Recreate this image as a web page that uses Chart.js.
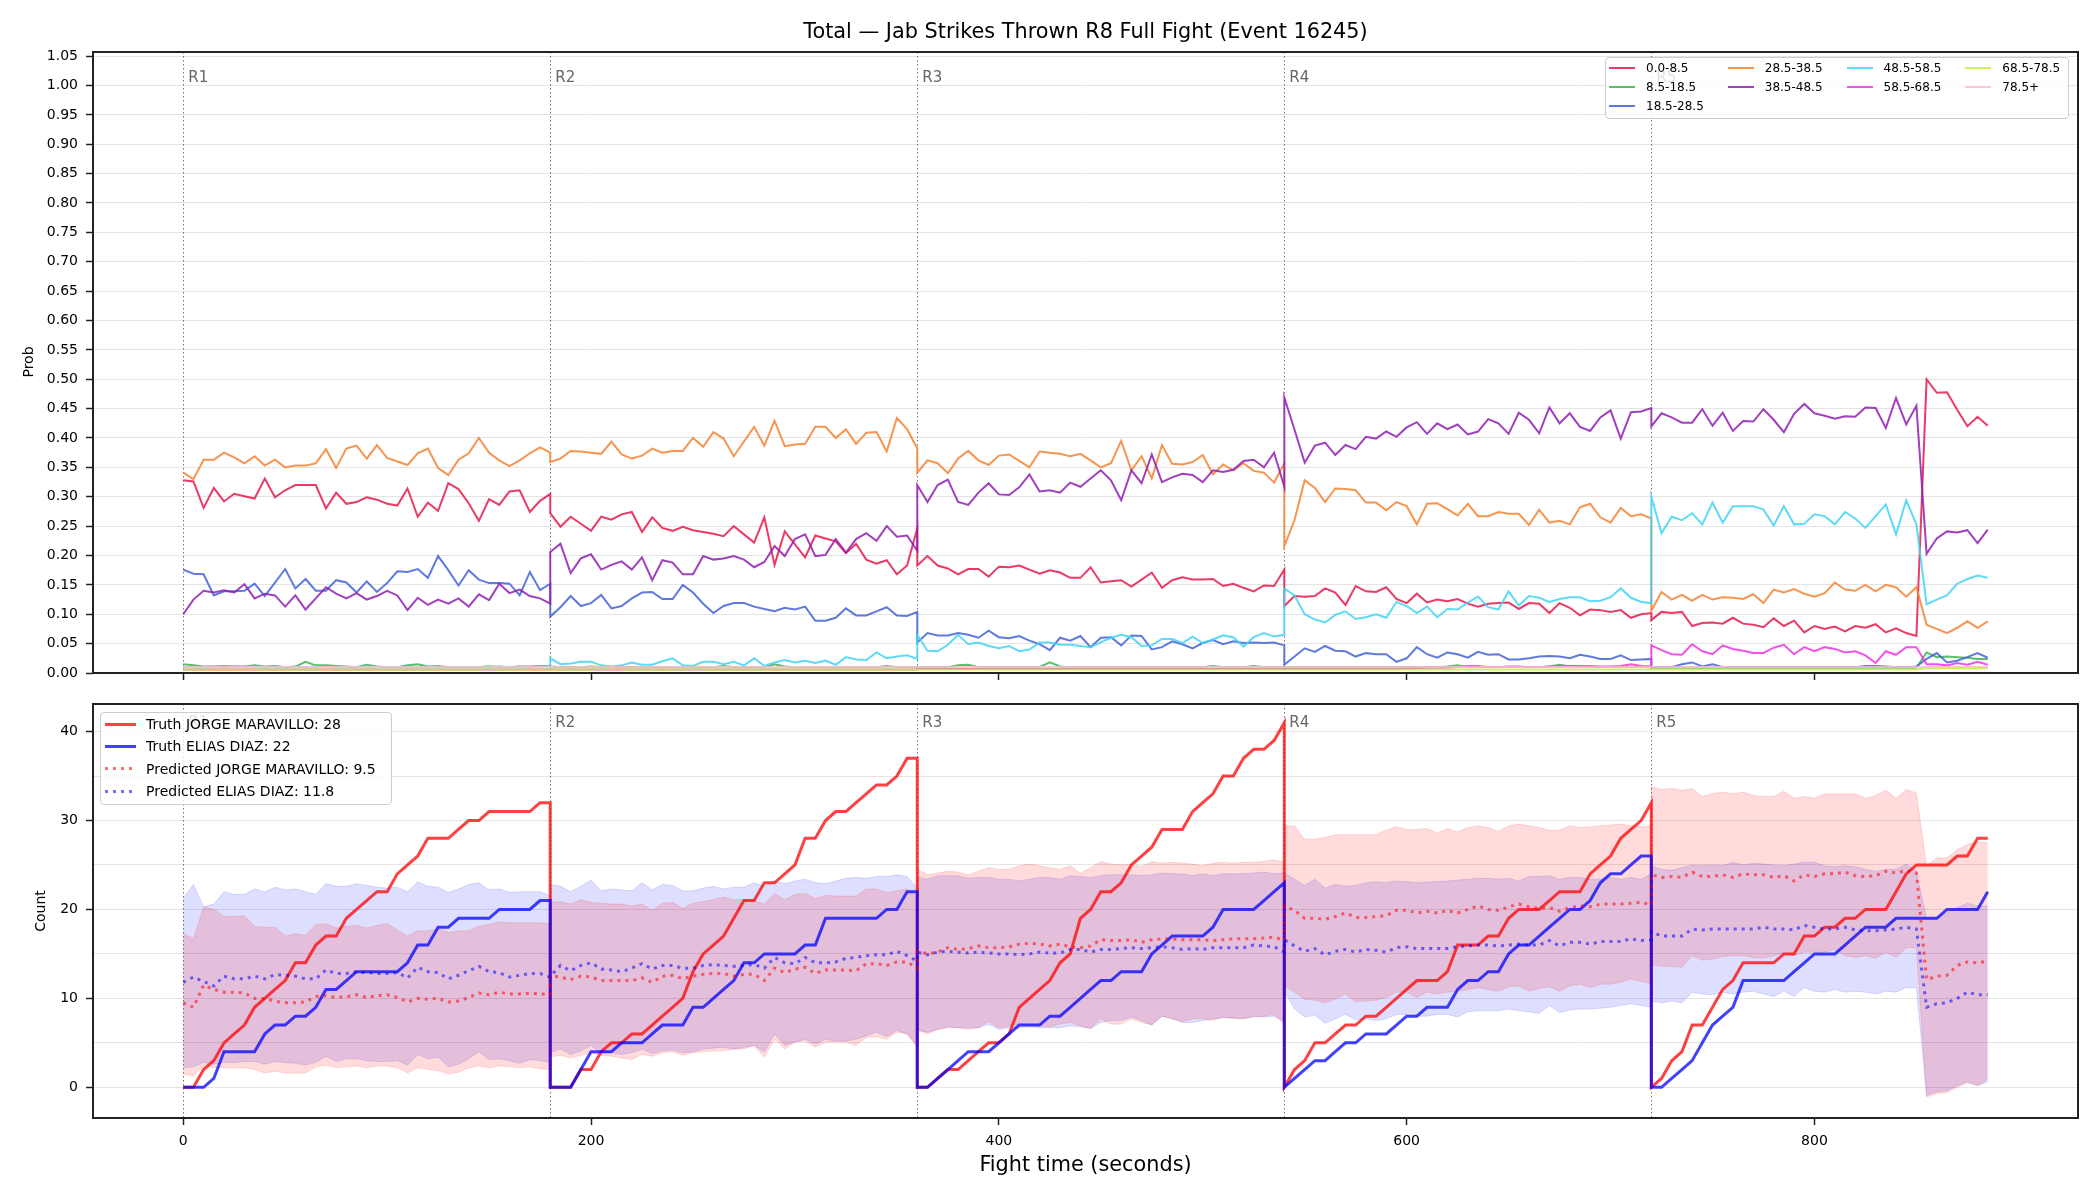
<!DOCTYPE html>
<html>
<head>
<meta charset="utf-8">
<title>Jab Strikes Thrown R8 Full Fight</title>
<script src="https://cdn.jsdelivr.net/npm/chart.js@4.4.1/dist/chart.umd.min.js"></script>
<style>
  html, body { margin: 0; padding: 0; background: #fff; }
  body { font-family: "DejaVu Sans", sans-serif; color: #000; }
  #page { position: relative; width: 2100px; height: 1200px; overflow: hidden; }
  #probChart { position: absolute; left: 0; top: 0; }
  #countChart { position: absolute; left: 0; top: 680px; }
  .title, .xlab { position: absolute; left: 93px; width: 1985px; text-align: center; font-size: 20.8px; line-height: 24px; }
  .title { top: 19px; }
  .xlab { top: 1152px; }
  .ylab { position: absolute; width: 120px; height: 18px; line-height: 18px; text-align: center; font-size: 14px; transform: rotate(-90deg); }
  .legend { position: absolute; box-sizing: border-box; border: 1px solid #cccccc; border-radius: 4px; background: rgba(255,255,255,0.8); display: grid; }
  .legend .item { display: flex; align-items: center; white-space: nowrap; }
  .legend .swatch { flex: none; }
  #legTop { left: 1605px; top: 57px; width: 464px; height: 62px; font-size: 12px; grid-template-rows: repeat(3, 19.25px); grid-auto-columns: max-content; column-gap: 24px; padding: 0 0 0 3px; }
  #legTop .swatch { width: 26px; height: 2px; margin-right: 11px; }
  #legBot { left: 100px; top: 712px; width: 292px; height: 93px; font-size: 14px; grid-template-rows: repeat(4, 22.3px); padding: 0 0 0 4px; }
  #legBot .swatch { width: 31px; height: 3px; margin-right: 10px; }
</style>
</head>
<body>
<div id="page">
  <canvas id="probChart" width="2100" height="700"></canvas>
  <canvas id="countChart" width="2100" height="520"></canvas>
  <div class="title">Total — Jab Strikes Thrown R8 Full Fight (Event 16245)</div>
  <div class="xlab">Fight time (seconds)</div>
  <div class="ylab" style="left:-32px; top:353px;">Prob</div>
  <div class="ylab" style="left:-20px; top:902px;">Count</div>
  <div class="legend" id="legTop"></div>
  <div class="legend" id="legBot"></div>
</div>
<script>
// rounds: every round sampled each 5 s, round boundaries repeated
const roundStart = [0, 180, 360, 540, 720];
const roundLen = [180, 180, 180, 180, 165];
const roundNames = ['R1', 'R2', 'R3', 'R4', 'R5'];

const xTicks = [0, 200, 400, 600, 800];
const probTicks = [0.00, 0.05, 0.10, 0.15, 0.20, 0.25, 0.30, 0.35, 0.40, 0.45, 0.50, 0.55, 0.60, 0.65, 0.70, 0.75, 0.80, 0.85, 0.90, 0.95, 1.00, 1.05];
const countTicks = [0, 5, 10, 15, 20, 25, 30, 35, 40];

const binLabels = ['0.0-8.5', '8.5-18.5', '18.5-28.5', '28.5-38.5', '38.5-48.5', '48.5-58.5', '58.5-68.5', '68.5-78.5', '78.5+'];
const binColors = ['#e6194b', '#3cb44b', '#4363d8', '#f58231', '#911eb4', '#42d4f4', '#f032e6', '#bfef45', '#fabed4'];

// probability per bin (R1..R5)
const prob_0_8 = [
  0.328,0.326,0.281,0.315,0.292,0.305,0.301,0.297,0.331,0.299,0.311,0.320,0.320,0.320,0.280,0.307,0.288,0.291,0.299,0.295,0.288,0.285,0.314,0.266,0.290,0.276,0.323,0.313,0.289,0.259,0.296,0.286,0.309,0.311,0.274,0.293,0.305,
  0.272,0.249,0.266,0.254,0.242,0.266,0.261,0.270,0.274,0.240,0.265,0.247,0.242,0.249,0.243,0.240,0.237,0.233,0.250,0.236,0.222,0.265,0.184,0.241,0.219,0.197,0.234,0.229,0.224,0.204,0.220,0.193,0.186,0.192,0.168,0.183,0.246,
  0.183,0.199,0.183,0.178,0.168,0.177,0.177,0.164,0.181,0.180,0.183,0.176,0.169,0.175,0.171,0.162,0.162,0.180,0.154,0.156,0.158,0.147,0.159,0.171,0.145,0.158,0.163,0.159,0.159,0.160,0.148,0.152,0.145,0.139,0.149,0.148,0.176,
  0.114,0.131,0.130,0.131,0.144,0.137,0.116,0.148,0.139,0.138,0.146,0.126,0.119,0.135,0.120,0.125,0.122,0.126,0.118,0.113,0.118,0.119,0.120,0.109,0.119,0.118,0.102,0.119,0.111,0.098,0.108,0.107,0.104,0.107,0.094,0.100,0.102,
  0.090,0.104,0.102,0.104,0.080,0.085,0.086,0.084,0.094,0.084,0.082,0.078,0.093,0.080,0.089,0.069,0.080,0.075,0.079,0.071,0.080,0.077,0.083,0.069,0.076,0.068,0.063,0.500,0.477,0.478,0.448,0.420,0.436,0.421
];
const prob_8_18 = [
  0.015,0.013,0.011,0.011,0.012,0.011,0.011,0.013,0.011,0.012,0.010,0.011,0.019,0.013,0.013,0.012,0.011,0.010,0.014,0.011,0.010,0.010,0.013,0.015,0.011,0.012,0.010,0.010,0.010,0.010,0.010,0.011,0.010,0.011,0.011,0.012,0.012,
  0.011,0.010,0.010,0.010,0.011,0.010,0.010,0.010,0.010,0.010,0.010,0.010,0.010,0.010,0.010,0.010,0.010,0.012,0.010,0.010,0.010,0.010,0.015,0.011,0.010,0.010,0.010,0.010,0.010,0.010,0.010,0.010,0.010,0.012,0.010,0.010,0.010,
  0.010,0.010,0.010,0.010,0.013,0.014,0.010,0.010,0.010,0.010,0.010,0.010,0.010,0.018,0.011,0.010,0.010,0.010,0.010,0.010,0.010,0.010,0.010,0.010,0.010,0.010,0.010,0.010,0.010,0.012,0.010,0.010,0.010,0.012,0.010,0.010,0.010,
  0.010,0.010,0.010,0.010,0.010,0.010,0.010,0.010,0.010,0.010,0.010,0.010,0.010,0.010,0.010,0.010,0.011,0.013,0.010,0.010,0.010,0.010,0.010,0.010,0.010,0.010,0.011,0.014,0.011,0.010,0.010,0.010,0.010,0.010,0.010,0.010,0.010,
  0.009,0.009,0.009,0.009,0.009,0.009,0.009,0.009,0.009,0.009,0.009,0.009,0.009,0.009,0.009,0.009,0.009,0.009,0.009,0.009,0.009,0.009,0.009,0.009,0.009,0.009,0.009,0.035,0.027,0.028,0.027,0.026,0.024,0.024
];
const prob_18_28 = [
  0.176,0.169,0.168,0.132,0.139,0.139,0.140,0.152,0.131,0.154,0.177,0.144,0.160,0.140,0.140,0.158,0.154,0.137,0.156,0.138,0.153,0.173,0.172,0.177,0.162,0.199,0.175,0.149,0.175,0.159,0.153,0.153,0.152,0.132,0.172,0.141,0.152,
  0.096,0.112,0.131,0.114,0.119,0.133,0.110,0.114,0.127,0.137,0.138,0.126,0.126,0.150,0.137,0.118,0.102,0.114,0.119,0.119,0.113,0.109,0.105,0.111,0.108,0.113,0.089,0.089,0.094,0.110,0.098,0.098,0.105,0.112,0.098,0.097,0.104,
  0.052,0.068,0.064,0.064,0.068,0.065,0.060,0.072,0.061,0.059,0.063,0.055,0.049,0.039,0.060,0.055,0.063,0.044,0.060,0.061,0.047,0.064,0.063,0.040,0.044,0.054,0.049,0.042,0.051,0.056,0.049,0.054,0.051,0.052,0.051,0.052,0.047,
  0.014,0.028,0.042,0.036,0.046,0.038,0.037,0.028,0.034,0.032,0.032,0.019,0.025,0.044,0.032,0.026,0.035,0.032,0.026,0.036,0.031,0.032,0.023,0.023,0.025,0.028,0.029,0.028,0.025,0.031,0.028,0.024,0.024,0.030,0.022,0.023,0.024,
  0.010,0.010,0.010,0.015,0.018,0.011,0.015,0.010,0.010,0.010,0.010,0.010,0.010,0.010,0.010,0.010,0.010,0.010,0.010,0.010,0.010,0.012,0.012,0.011,0.010,0.010,0.011,0.024,0.034,0.018,0.021,0.027,0.034,0.026
];
const prob_28_38 = [
  0.341,0.330,0.363,0.363,0.375,0.367,0.357,0.369,0.353,0.363,0.350,0.353,0.353,0.357,0.381,0.349,0.382,0.387,0.365,0.388,0.366,0.360,0.354,0.374,0.382,0.349,0.337,0.363,0.374,0.400,0.375,0.362,0.352,0.362,0.374,0.384,0.375,
  0.359,0.365,0.378,0.377,0.375,0.373,0.394,0.372,0.365,0.370,0.382,0.375,0.378,0.378,0.400,0.385,0.410,0.399,0.369,0.394,0.419,0.387,0.429,0.386,0.389,0.390,0.419,0.419,0.400,0.415,0.390,0.409,0.410,0.377,0.434,0.415,0.382,
  0.341,0.362,0.357,0.340,0.365,0.378,0.362,0.354,0.370,0.372,0.361,0.350,0.377,0.375,0.373,0.369,0.373,0.362,0.350,0.357,0.395,0.345,0.369,0.331,0.388,0.356,0.355,0.359,0.371,0.338,0.355,0.345,0.357,0.344,0.341,0.324,0.357,
  0.216,0.260,0.328,0.315,0.291,0.314,0.313,0.311,0.290,0.290,0.277,0.291,0.284,0.253,0.288,0.289,0.279,0.268,0.288,0.267,0.267,0.274,0.271,0.271,0.252,0.278,0.256,0.259,0.253,0.282,0.288,0.265,0.256,0.281,0.267,0.270,0.263,
  0.106,0.138,0.125,0.133,0.123,0.133,0.125,0.129,0.128,0.126,0.134,0.119,0.142,0.137,0.143,0.135,0.130,0.136,0.154,0.142,0.140,0.150,0.139,0.150,0.146,0.130,0.146,0.082,0.075,0.068,0.077,0.088,0.077,0.088
];
const prob_38_48 = [
  0.100,0.125,0.140,0.137,0.141,0.137,0.151,0.127,0.135,0.132,0.113,0.132,0.108,0.127,0.146,0.135,0.127,0.136,0.125,0.131,0.140,0.132,0.107,0.128,0.116,0.125,0.118,0.127,0.113,0.134,0.124,0.152,0.136,0.142,0.131,0.127,0.118,
  0.206,0.220,0.170,0.195,0.202,0.176,0.184,0.190,0.176,0.197,0.158,0.192,0.188,0.168,0.168,0.199,0.193,0.195,0.199,0.193,0.180,0.189,0.216,0.199,0.228,0.236,0.199,0.201,0.228,0.205,0.228,0.238,0.225,0.250,0.232,0.234,0.208,
  0.320,0.291,0.320,0.329,0.291,0.286,0.307,0.323,0.304,0.303,0.316,0.338,0.309,0.311,0.307,0.324,0.317,0.331,0.345,0.328,0.294,0.345,0.323,0.372,0.325,0.333,0.339,0.337,0.325,0.345,0.342,0.346,0.361,0.363,0.350,0.375,0.317,
  0.469,0.414,0.358,0.387,0.392,0.371,0.388,0.381,0.402,0.399,0.411,0.402,0.418,0.427,0.407,0.425,0.415,0.423,0.406,0.411,0.432,0.425,0.407,0.443,0.431,0.408,0.452,0.425,0.442,0.419,0.412,0.435,0.447,0.399,0.444,0.445,0.451,
  0.420,0.442,0.435,0.426,0.426,0.449,0.421,0.443,0.412,0.429,0.428,0.449,0.431,0.410,0.441,0.458,0.442,0.438,0.433,0.437,0.436,0.452,0.451,0.417,0.468,0.423,0.455,0.203,0.229,0.241,0.239,0.243,0.221,0.244
];
const prob_48_58 = [
  0.010,0.010,0.010,0.011,0.010,0.011,0.011,0.011,0.010,0.011,0.010,0.010,0.010,0.011,0.010,0.010,0.010,0.010,0.011,0.010,0.010,0.010,0.010,0.010,0.010,0.010,0.010,0.010,0.010,0.010,0.012,0.010,0.010,0.011,0.010,0.011,0.012,
  0.025,0.015,0.016,0.019,0.019,0.013,0.011,0.013,0.018,0.014,0.014,0.020,0.025,0.013,0.012,0.019,0.019,0.015,0.019,0.013,0.025,0.012,0.018,0.022,0.018,0.021,0.017,0.021,0.014,0.027,0.023,0.022,0.035,0.025,0.028,0.030,0.024,
  0.065,0.038,0.037,0.048,0.065,0.049,0.052,0.046,0.042,0.046,0.037,0.040,0.052,0.052,0.048,0.048,0.046,0.044,0.052,0.060,0.065,0.061,0.046,0.047,0.058,0.058,0.051,0.062,0.051,0.057,0.064,0.061,0.045,0.061,0.068,0.062,0.065,
  0.144,0.132,0.100,0.091,0.086,0.099,0.105,0.092,0.095,0.100,0.094,0.121,0.114,0.102,0.113,0.095,0.109,0.108,0.120,0.130,0.112,0.108,0.139,0.115,0.131,0.128,0.121,0.126,0.129,0.129,0.122,0.123,0.129,0.144,0.128,0.121,0.119,
  0.300,0.238,0.266,0.260,0.272,0.253,0.290,0.256,0.284,0.284,0.284,0.278,0.251,0.284,0.253,0.254,0.270,0.267,0.253,0.274,0.263,0.247,0.267,0.287,0.236,0.294,0.253,0.117,0.125,0.132,0.152,0.160,0.166,0.162
];
const prob_58_68 = [
  0.006,0.006,0.006,0.006,0.006,0.006,0.006,0.006,0.006,0.006,0.006,0.006,0.006,0.006,0.006,0.006,0.006,0.006,0.006,0.006,0.006,0.006,0.006,0.006,0.006,0.006,0.006,0.006,0.006,0.006,0.006,0.006,0.006,0.006,0.006,0.006,0.006,
  0.006,0.006,0.006,0.006,0.006,0.006,0.006,0.006,0.006,0.006,0.006,0.006,0.006,0.006,0.006,0.006,0.006,0.006,0.006,0.006,0.006,0.006,0.006,0.006,0.006,0.006,0.006,0.006,0.006,0.006,0.006,0.006,0.006,0.006,0.006,0.006,0.006,
  0.007,0.007,0.007,0.007,0.007,0.007,0.007,0.007,0.007,0.007,0.007,0.007,0.007,0.007,0.007,0.007,0.007,0.007,0.007,0.007,0.007,0.007,0.007,0.007,0.007,0.007,0.007,0.007,0.007,0.007,0.007,0.007,0.007,0.007,0.007,0.007,0.007,
  0.007,0.007,0.007,0.007,0.007,0.007,0.007,0.007,0.007,0.007,0.007,0.007,0.008,0.008,0.009,0.009,0.009,0.010,0.012,0.012,0.010,0.010,0.011,0.011,0.010,0.010,0.011,0.011,0.012,0.012,0.012,0.011,0.011,0.012,0.015,0.012,0.011,
  0.047,0.039,0.032,0.031,0.049,0.037,0.032,0.047,0.041,0.038,0.034,0.034,0.043,0.048,0.032,0.044,0.037,0.044,0.041,0.035,0.037,0.030,0.017,0.037,0.031,0.044,0.044,0.015,0.015,0.013,0.017,0.014,0.019,0.014
];
const prob_68_78 = [
  0.006,0.006,0.006,0.006,0.006,0.006,0.006,0.006,0.006,0.006,0.006,0.006,0.006,0.006,0.006,0.006,0.006,0.006,0.006,0.006,0.006,0.006,0.006,0.006,0.006,0.006,0.006,0.006,0.006,0.006,0.006,0.006,0.006,0.006,0.006,0.006,0.006,
  0.006,0.006,0.006,0.006,0.006,0.006,0.006,0.006,0.006,0.006,0.006,0.006,0.006,0.006,0.006,0.006,0.006,0.006,0.006,0.006,0.006,0.006,0.006,0.006,0.006,0.006,0.006,0.006,0.006,0.006,0.006,0.006,0.006,0.006,0.006,0.006,0.006,
  0.006,0.006,0.006,0.006,0.006,0.006,0.006,0.006,0.006,0.006,0.006,0.006,0.006,0.006,0.006,0.006,0.006,0.006,0.006,0.006,0.006,0.006,0.006,0.006,0.006,0.006,0.006,0.006,0.006,0.006,0.006,0.006,0.006,0.006,0.006,0.006,0.006,
  0.006,0.006,0.006,0.006,0.006,0.006,0.006,0.006,0.006,0.006,0.006,0.006,0.006,0.006,0.006,0.006,0.006,0.006,0.006,0.006,0.006,0.006,0.006,0.006,0.006,0.006,0.006,0.006,0.006,0.006,0.006,0.006,0.006,0.006,0.006,0.006,0.006,
  0.006,0.006,0.006,0.006,0.006,0.006,0.006,0.006,0.006,0.006,0.006,0.006,0.006,0.006,0.006,0.006,0.006,0.006,0.006,0.006,0.006,0.006,0.006,0.006,0.006,0.006,0.006,0.008,0.008,0.008,0.008,0.008,0.008,0.008
];
const prob_78p = [
  0.010,0.010,0.010,0.010,0.010,0.010,0.010,0.010,0.010,0.010,0.010,0.010,0.010,0.010,0.010,0.010,0.010,0.010,0.010,0.010,0.010,0.010,0.010,0.010,0.010,0.010,0.010,0.010,0.010,0.010,0.010,0.010,0.010,0.010,0.010,0.010,0.010,
  0.010,0.010,0.010,0.010,0.010,0.010,0.010,0.010,0.010,0.010,0.010,0.010,0.010,0.010,0.010,0.010,0.010,0.010,0.010,0.010,0.010,0.010,0.010,0.010,0.010,0.010,0.010,0.010,0.010,0.010,0.010,0.010,0.010,0.010,0.010,0.010,0.010,
  0.010,0.010,0.010,0.010,0.010,0.010,0.010,0.010,0.010,0.010,0.010,0.010,0.010,0.010,0.010,0.010,0.010,0.010,0.010,0.010,0.010,0.010,0.010,0.010,0.010,0.010,0.010,0.010,0.010,0.010,0.010,0.010,0.010,0.010,0.010,0.010,0.010,
  0.010,0.010,0.010,0.010,0.010,0.010,0.010,0.010,0.010,0.010,0.010,0.010,0.010,0.010,0.010,0.010,0.010,0.010,0.010,0.010,0.010,0.010,0.010,0.010,0.010,0.010,0.010,0.010,0.010,0.010,0.010,0.010,0.010,0.010,0.010,0.010,0.010,
  0.010,0.010,0.010,0.010,0.010,0.010,0.010,0.010,0.010,0.010,0.010,0.010,0.010,0.010,0.010,0.010,0.010,0.010,0.010,0.010,0.010,0.010,0.010,0.010,0.010,0.010,0.010,0.010,0.010,0.010,0.010,0.010,0.010,0.010
];

// counts
const truthRed = [
  0,0,2,3,5,6,7,9,10,11,12,14,14,16,17,17,19,20,21,22,22,24,25,26,28,28,28,29,30,30,31,31,31,31,31,32,32,
  0,0,0,2,2,4,5,5,6,6,7,8,9,10,13,15,16,17,19,21,21,23,23,24,25,28,28,30,31,31,32,33,34,34,35,37,37,
  0,0,1,2,2,3,4,5,5,6,9,10,11,12,14,15,19,20,22,22,23,25,26,27,29,29,29,31,32,33,35,35,37,38,38,39,41,
  0,2,3,5,5,6,7,7,8,8,9,10,11,12,12,12,13,16,16,16,17,17,19,20,20,20,21,22,22,22,24,25,26,28,29,30,32,
  0,1,3,4,7,7,9,11,12,14,14,14,14,15,15,17,17,18,18,19,19,20,20,20,22,24,25,25,25,25,26,26,28,28
];
const truthBlue = [
  0,0,0,1,4,4,4,4,6,7,7,8,8,9,11,11,12,13,13,13,13,13,14,16,16,18,18,19,19,19,19,20,20,20,20,21,21,
  0,0,0,2,4,4,4,5,5,5,6,7,7,7,9,9,10,11,12,14,14,15,15,15,15,16,16,19,19,19,19,19,19,20,20,22,22,
  0,0,1,2,3,4,4,4,5,6,7,7,7,8,8,9,10,11,12,12,13,13,13,15,16,17,17,17,17,18,20,20,20,20,21,22,23,
  0,1,2,3,3,4,5,5,6,6,6,7,8,8,9,9,9,11,12,12,13,13,15,16,16,17,18,19,20,20,21,23,24,24,25,26,26,
  0,0,1,2,3,5,7,8,9,12,12,12,12,12,13,14,15,15,15,16,17,18,18,18,19,19,19,19,19,20,20,20,20,22
];
const predRed = [
  9.5,9.0,11.5,11.0,10.7,10.7,10.6,10.0,10.0,9.7,9.5,9.5,9.6,10.2,10.3,10.1,10.2,10.4,10.1,10.3,10.4,10.1,9.6,10.0,9.9,10.0,9.6,9.7,10.1,10.6,10.4,10.7,10.5,10.5,10.6,10.5,10.4,
  12.5,12.4,12.1,12.5,12.4,12.0,12.0,12.0,12.0,12.3,11.8,12.5,12.6,12.2,12.5,12.7,12.8,12.8,12.5,12.7,12.7,12.0,13.4,12.9,13.3,13.5,12.8,13.2,13.2,13.2,13.1,13.9,13.9,13.7,14.1,14.1,13.4,
  15.3,15.0,15.2,15.7,15.5,15.6,15.9,15.7,15.7,15.8,16.1,16.2,16.1,15.9,16.1,15.8,15.7,15.9,16.6,16.5,16.5,16.6,16.3,16.6,16.7,16.7,16.6,16.6,16.6,16.5,16.6,16.7,16.7,16.7,16.8,16.9,16.5,
  20.4,19.9,19.0,19.0,18.9,19.2,19.6,19.1,19.1,19.2,19.3,19.9,19.9,19.6,19.8,19.6,19.9,19.6,20.0,20.4,20.0,19.9,20.3,20.6,20.3,20.1,20.2,19.8,20.2,20.4,20.3,20.6,20.6,20.6,20.7,20.8,20.5,
  23.9,23.6,23.7,23.6,24.2,23.7,23.7,23.9,23.6,24.0,23.9,23.9,23.6,23.8,23.2,23.9,23.7,24.0,24.0,24.2,23.8,23.7,23.8,24.3,24.1,24.4,24.1,12.1,12.5,12.6,13.7,14.1,14.0,14.2
];
const predBlue = [
  11.8,12.4,11.9,11.4,12.5,12.2,12.2,12.5,12.2,12.7,12.6,12.5,12.2,12.2,13.2,12.8,12.8,13.0,12.9,12.8,12.8,12.9,12.3,13.5,13.0,12.9,12.2,12.6,13.1,13.6,13.0,12.9,12.4,12.6,12.8,12.8,12.4,
  12.5,13.7,13.1,13.7,14.0,13.3,13.2,13.0,13.4,13.9,13.3,13.7,13.7,13.4,13.4,13.7,13.8,13.7,13.6,13.7,13.8,13.4,14.6,14.0,13.9,14.6,14.0,14.0,14.1,14.5,14.6,14.8,14.9,14.9,15.3,14.8,14.2,
  15.2,14.9,15.2,15.3,15.2,15.1,15.2,15.1,15.0,15.0,14.9,15.0,15.2,15.1,15.1,15.5,15.5,15.2,15.5,15.5,15.6,15.7,15.6,15.7,15.8,15.7,15.5,15.6,15.5,15.7,15.7,15.7,15.7,16.0,15.9,15.8,15.2,
  16.6,15.9,15.3,15.6,14.9,15.3,15.5,15.2,15.5,15.4,15.2,15.7,15.8,15.6,15.6,15.6,15.6,15.8,15.9,16.0,16.0,15.9,16.0,16.1,16.0,16.0,16.5,15.9,16.3,16.3,16.1,16.4,16.4,16.4,16.7,16.5,16.6,
  17.5,17.0,17.0,17.0,17.8,17.7,17.8,17.8,17.8,17.8,17.8,18.0,17.8,17.8,17.7,18.2,18.0,17.8,17.8,18.0,17.7,17.6,17.6,17.7,17.8,18.0,17.8,9.0,9.4,9.5,10.0,10.7,10.4,10.4
];
const redHigh = [
  17.3,16.7,20.3,20.0,19.2,19.2,19.3,18.1,18.0,18.0,17.0,17.3,17.1,18.3,18.4,17.9,18.1,18.2,17.9,18.2,18.4,17.7,17.0,17.6,17.6,17.8,17.4,17.6,17.6,18.1,18.3,18.6,18.5,18.5,18.5,18.5,18.4,
  20.8,20.9,20.6,21.1,20.8,20.7,20.6,20.6,20.4,20.6,19.9,20.7,20.8,20.1,20.7,20.9,21.1,21.4,21.1,21.1,21.0,20.6,21.8,21.1,21.7,21.8,21.2,21.6,21.5,21.5,21.5,22.3,22.3,21.9,22.1,22.3,21.5,
  24.5,23.9,24.1,24.3,24.2,23.9,24.3,24.7,24.5,24.5,24.9,25.1,24.9,24.7,24.5,24.9,24.1,24.7,25.4,25.1,25.0,25.1,24.8,25.4,25.2,25.3,25.2,25.1,24.9,25.2,25.3,25.2,25.3,25.3,25.4,25.6,25.3,
  29.4,29.4,27.9,27.9,28.1,28.4,28.4,28.4,28.4,28.4,28.9,29.3,29.0,29.0,29.1,28.6,29.1,28.7,29.2,29.4,29.2,28.8,29.4,29.6,29.4,29.2,28.9,28.9,29.4,29.2,29.3,29.4,29.5,29.6,29.4,29.3,29.4,
  33.8,33.5,33.6,33.4,33.6,32.7,33.0,33.2,33.0,33.2,32.8,32.7,32.7,33.3,32.5,32.7,32.5,33.0,33.0,33.0,33.0,32.5,32.8,33.4,32.5,33.5,33.1,24.9,25.8,25.8,26.7,27.3,27.6,27.5
];
const redLow = [
  1.5,1.3,2.4,2.2,2.2,2.2,2.2,2.0,1.6,1.8,1.6,1.6,1.6,2.3,2.5,2.2,2.3,2.4,2.2,2.4,2.4,2.2,1.6,2.2,2.0,1.9,1.5,1.7,2.2,2.4,2.2,2.4,2.3,2.2,2.3,2.1,2.0,
  3.4,3.6,3.3,3.6,3.9,3.6,3.5,3.3,3.1,3.7,3.5,3.9,4.0,3.6,3.9,4.0,4.1,4.1,4.3,4.3,4.7,3.4,5.4,4.3,5.1,5.2,4.5,5.1,5.1,5.1,4.7,5.6,5.7,5.4,6.2,6.0,4.5,
  6.5,6.0,6.5,6.7,6.7,6.5,6.7,7.4,6.7,6.9,7.1,6.9,6.9,6.8,7.1,7.3,6.9,6.6,7.7,7.1,7.1,7.7,7.3,7.0,8.0,7.7,7.4,7.7,7.7,7.5,7.9,7.7,7.7,7.9,8.0,8.2,7.1,
  11.4,10.7,9.9,9.8,9.5,9.9,10.5,9.6,9.7,9.8,10.1,10.7,10.7,10.1,10.7,10.5,10.7,10.8,11.0,11.2,11.0,10.8,11.3,11.4,10.8,11.1,11.3,10.8,11.4,11.6,11.2,11.6,11.6,11.8,12.2,11.9,11.7,
  13.8,13.6,13.6,13.5,14.8,14.3,14.4,14.7,14.8,14.8,14.6,14.5,14.8,15.1,14.8,15.2,15.2,15.2,15.5,14.8,14.6,14.8,14.5,15.2,14.6,15.7,15.7,-1.1,-0.7,-0.6,0.0,0.5,0.2,0.9
];
const blueHigh = [
  21.3,22.8,20.3,20.6,22.0,21.7,21.7,22.3,22.0,22.5,22.2,22.3,22.0,21.7,22.9,22.6,22.6,22.9,22.7,22.5,22.4,22.5,22.0,23.1,22.6,22.5,21.9,22.3,22.8,23.0,22.2,22.3,21.9,22.0,22.0,22.0,21.5,
  22.8,22.6,22.0,22.6,23.3,22.1,22.3,22.2,22.1,23.0,22.2,22.8,22.7,22.1,22.1,22.4,22.6,22.3,22.5,22.5,23.0,22.6,23.2,22.9,23.2,23.4,23.0,22.9,23.2,23.5,23.6,23.5,23.7,23.7,23.9,23.7,22.4,
  23.6,23.4,23.8,23.8,23.8,23.5,23.6,23.6,23.4,23.4,23.2,23.4,23.6,23.6,23.4,23.8,23.7,23.6,23.8,23.9,23.9,23.9,23.8,23.9,24.1,24.0,24.0,23.8,24.0,23.8,24.0,24.0,24.0,24.1,24.2,24.0,24.1,
  24.1,23.4,22.7,23.4,22.4,22.8,22.6,22.7,23.0,23.1,23.0,23.2,23.1,23.0,23.1,23.1,23.2,23.3,23.4,23.5,23.5,23.4,23.5,23.2,23.7,23.7,23.8,23.4,23.6,23.6,23.4,23.4,23.6,23.4,23.6,23.4,24.0,
  24.9,24.5,24.4,24.7,25.0,24.9,25.0,24.9,25.3,25.0,25.2,25.1,25.0,24.9,25.1,25.3,25.3,24.9,24.8,24.9,24.8,24.5,24.3,24.5,24.5,25.1,24.3,18.9,19.1,19.6,20.2,20.7,20.4,20.4
];
const blueLow = [
  2.2,2.3,2.8,2.6,2.8,2.8,2.9,2.9,2.6,2.9,2.8,2.7,2.5,2.8,3.5,2.9,3.2,3.2,3.0,2.9,2.9,3.0,2.5,3.7,3.2,3.4,2.3,2.6,3.2,4.0,3.1,3.2,3.0,2.7,3.1,3.0,2.8,
  3.9,4.3,3.7,4.1,4.7,3.9,3.9,3.7,3.9,4.3,3.8,4.1,4.2,3.9,4.0,4.3,4.4,4.5,4.3,4.5,4.7,4.0,6.0,4.7,5.1,5.4,4.9,5.4,5.2,5.2,5.4,5.8,6.2,5.7,6.4,6.0,4.7,
  6.4,6.2,6.5,6.8,6.7,6.7,6.7,7.1,6.5,6.7,6.7,6.8,6.7,6.7,6.7,6.9,6.8,6.6,7.3,7.5,7.5,7.9,7.5,7.0,8.0,7.7,7.3,7.3,7.5,7.7,7.8,7.8,7.7,8.0,7.9,8.0,7.4,
  10.8,8.8,7.9,8.1,7.2,7.7,8.2,7.6,7.7,7.5,7.7,8.2,8.2,8.0,8.0,8.2,8.2,7.9,8.5,8.6,8.6,8.6,8.8,8.6,8.5,8.3,9.2,8.4,8.7,8.8,8.8,8.9,9.0,9.2,9.4,9.2,9.0,
  9.7,9.5,9.7,9.5,10.7,10.5,10.4,10.7,10.5,10.7,10.8,10.5,10.2,10.8,10.2,11.2,10.8,10.7,11.0,10.7,10.8,10.7,10.5,10.8,10.7,11.2,11.2,-0.9,-0.5,-0.4,0.2,0.6,0.2,0.6
];

const countLabels = ['Truth JORGE MARAVILLO: 28', 'Truth ELIAS DIAZ: 22', 'Predicted JORGE MARAVILLO: 9.5', 'Predicted ELIAS DIAZ: 11.8'];

// time axis: each round restarts at its boundary
const times = [];
roundStart.forEach((s, r) => {
    for (let t = 0; t <= roundLen[r]; t += 5) times.push(s + t);
});

function toPoints(vals) {
    return vals.map((v, k) => ({ x: times[k], y: v }));
}

function withAlpha(hex, a) {
    const n = parseInt(hex.slice(1), 16);
    return `rgba(${(n >> 16) & 255},${(n >> 8) & 255},${n & 255},${a})`;
}

Chart.defaults.font.family = '"DejaVu Sans", sans-serif';
Chart.defaults.font.size = 14;
Chart.defaults.color = '#000';

// dotted round lines + R labels
const roundMarks = {
    id: 'roundMarks',
    beforeDatasetsDraw(chart, args, opts) {
        const { ctx, chartArea, scales } = chart;
        ctx.save();
        ctx.strokeStyle = 'rgba(90,90,90,0.85)';
        ctx.lineWidth = 1;
        ctx.setLineDash([1.5, 2.5]);
        roundStart.forEach(t => {
            const px = Math.round(scales.x.getPixelForValue(t)) + 0.5;
            ctx.beginPath();
            ctx.moveTo(px, chartArea.top);
            ctx.lineTo(px, chartArea.bottom);
            ctx.stroke();
        });
        ctx.setLineDash([]);
        ctx.fillStyle = '#666';
        ctx.font = '15px "DejaVu Sans"';
        ctx.textBaseline = 'middle';
        const ly = scales.y.getPixelForValue(opts.labelY);
        roundStart.forEach((t, i) => {
            ctx.fillText(roundNames[i], scales.x.getPixelForValue(t) + 5, ly);
        });
        ctx.restore();
    }
};

// matplotlib-like box round the axes
const frame = {
    id: 'frame',
    afterDatasetsDraw(chart) {
        const { ctx, chartArea: a } = chart;
        ctx.save();
        ctx.strokeStyle = '#222';
        ctx.lineWidth = 2;
        ctx.strokeRect(a.left, a.top, a.right - a.left, a.bottom - a.top);
        ctx.restore();
    }
};

function xScale(height, showLabels) {
    return {
        type: 'linear',
        min: -44.25,
        max: 929.25,
        afterBuildTicks: s => { s.ticks = xTicks.map(v => ({ value: v })); },
        afterFit: s => { s.height = height; },
        ticks: { display: showLabels, padding: 8, maxRotation: 0 },
        grid: { drawOnChartArea: false, drawTicks: true, tickLength: 7, tickColor: '#222', tickWidth: 1.5 },
        border: { display: false }
    };
}

// Top: probability per bin
const probSeries = [prob_0_8, prob_8_18, prob_18_28, prob_28_38, prob_38_48, prob_48_58, prob_58_68, prob_68_78, prob_78p];

new Chart(document.getElementById('probChart'), {
    type: 'line',
    data: {
        datasets: probSeries.map((vals, i) => ({
            label: binLabels[i],
            data: toPoints(vals),
            borderColor: withAlpha(binColors[i], 0.85),
            borderWidth: 2,
            pointRadius: 0,
            tension: 0,
            fill: false,
            order: probSeries.length - i
        }))
    },
    options: {
        responsive: false,
        devicePixelRatio: 1,
        animation: false,
        events: [],
        layout: { padding: { left: 0, right: 22, top: 52, bottom: 0 } },
        plugins: {
            legend: { display: false },
            tooltip: { enabled: false },
            roundMarks: { labelY: 1.013 }
        },
        scales: {
            x: xScale(27, false),
            y: {
                min: 0,
                max: 1.057,
                afterBuildTicks: s => { s.ticks = probTicks.map(v => ({ value: v })); },
                afterFit: s => { s.width = 93; },
                ticks: { padding: 8, callback: v => Number(v).toFixed(2) },
                grid: { color: '#e4e4e4', tickLength: 7, tickColor: '#222', tickWidth: 1.5 },
                border: { display: false }
            }
        }
    },
    plugins: [roundMarks, frame]
});

// Bottom: truth / predicted counts with bands
const lineBase = { pointRadius: 0, tension: 0, fill: false };

new Chart(document.getElementById('countChart'), {
    type: 'line',
    data: {
        datasets: [
            { ...lineBase, label: countLabels[0], data: toPoints(truthRed), borderColor: 'rgba(255,0,0,0.75)', borderWidth: 3, order: 4 },
            { ...lineBase, label: countLabels[1], data: toPoints(truthBlue), borderColor: 'rgba(0,0,255,0.75)', borderWidth: 3, order: 3 },
            { ...lineBase, label: countLabels[2], data: toPoints(predRed), borderColor: 'rgba(255,0,0,0.55)', borderWidth: 3, borderDash: [3, 5], order: 2 },
            { ...lineBase, label: countLabels[3], data: toPoints(predBlue), borderColor: 'rgba(0,0,255,0.55)', borderWidth: 3, borderDash: [3, 5], order: 1 },
            { ...lineBase, label: 'blue band', data: toPoints(blueHigh), borderColor: 'rgba(0,0,255,0.13)', borderWidth: 1, fill: 5, backgroundColor: 'rgba(0,0,255,0.13)', order: 11 },
            { ...lineBase, label: 'blue band low', data: toPoints(blueLow), borderColor: 'rgba(0,0,255,0.13)', borderWidth: 1, order: 11 },
            { ...lineBase, label: 'red band', data: toPoints(redHigh), borderColor: 'rgba(255,0,0,0.13)', borderWidth: 1, fill: 7, backgroundColor: 'rgba(255,0,0,0.14)', order: 10 },
            { ...lineBase, label: 'red band low', data: toPoints(redLow), borderColor: 'rgba(255,0,0,0.13)', borderWidth: 1, order: 10 }
        ]
    },
    options: {
        responsive: false,
        devicePixelRatio: 1,
        animation: false,
        events: [],
        layout: { padding: { left: 0, right: 22, top: 24, bottom: 0 } },
        plugins: {
            legend: { display: false },
            tooltip: { enabled: false },
            roundMarks: { labelY: 41 }
        },
        scales: {
            x: xScale(82, true),
            y: {
                min: -3.45,
                max: 43.1,
                afterBuildTicks: s => { s.ticks = countTicks.map(v => ({ value: v })); },
                afterFit: s => { s.width = 93; },
                ticks: { padding: 8, callback: v => (v % 10 === 0 ? String(v) : '') },
                grid: {
                    color: '#e4e4e4',
                    tickLength: 7,
                    tickWidth: 1.5,
                    tickColor: c => (c.tick && c.tick.value % 10 === 0 ? '#222' : 'rgba(0,0,0,0)')
                },
                border: { display: false }
            }
        }
    },
    plugins: [roundMarks, frame]
});

// HTML legends (top one laid out like a 4-column matplotlib legend: 3,2,2,2)
const legTop = document.getElementById('legTop');
const nCols = 4;
const perCol = [];
for (let c = 0; c < nCols; c++) {
    perCol.push(Math.floor(binLabels.length / nCols) + (c < binLabels.length % nCols ? 1 : 0));
}
let idx = 0;
perCol.forEach((n, c) => {
    for (let r = 0; r < n; r++, idx++) {
        const item = document.createElement('div');
        item.className = 'item';
        item.style.gridColumn = String(c + 1);
        item.style.gridRow = String(r + 1);
        item.innerHTML = `<span class="swatch" style="background:${withAlpha(binColors[idx], 0.85)}"></span><span>${binLabels[idx]}</span>`;
        legTop.appendChild(item);
    }
});

const legBot = document.getElementById('legBot');
const legStyles = [
    'background:rgba(255,0,0,0.75)',
    'background:rgba(0,0,255,0.75)',
    'background:repeating-linear-gradient(to right, rgba(255,0,0,0.55) 0 3px, transparent 3px 8px)',
    'background:repeating-linear-gradient(to right, rgba(0,0,255,0.55) 0 3px, transparent 3px 8px)'
];
countLabels.forEach((lab, i) => {
    const item = document.createElement('div');
    item.className = 'item';
    item.innerHTML = `<span class="swatch" style="${legStyles[i]}"></span><span>${lab}</span>`;
    legBot.appendChild(item);
});
</script>
</body>
</html>
